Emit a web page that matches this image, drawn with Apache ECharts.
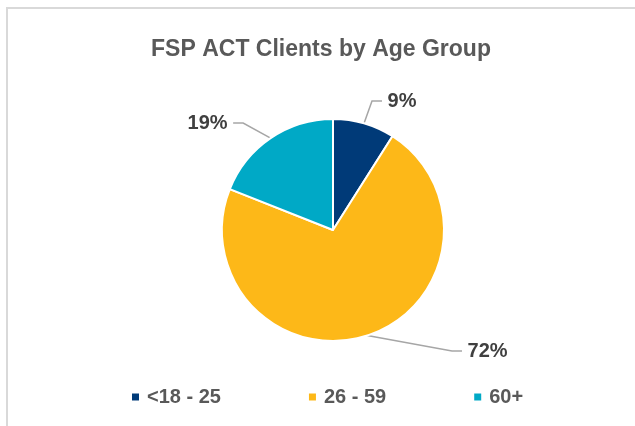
<!DOCTYPE html>
<html>
<head>
<meta charset="UTF-8">
<title></title>
<script src="https://cdn.jsdelivr.net/npm/echarts@6/dist/echarts.min.js"></script>
<style>
html, body { margin: 0; padding: 0; background: #fff; }
</style>
</head>
<body>
<div id="main" style="width: 635px;height:426px;"></div>
<script type="text/javascript">
var groups = ['<18 - 25', '26 - 59', '60+'];
var shares = [9, 72, 19];
var colors = ['#003A78', '#FDB818', '#00A9C6'];

// where each percentage label box sits (left edge / vertical middle)
var labelPos = [[382, 101], [462, 351], [182, 123]];

var seriesData = [];
for (var i = 0; i < groups.length; i++) {
	seriesData.push({ name: groups[i], value: shares[i], itemStyle: { color: colors[i] } });
}

var option = {
	animation: false,
	textStyle: { fontFamily: 'Liberation Sans' },
	graphic: [{
		type: 'rect',
		shape: { x: 7, y: 8, width: 700, height: 500 },
		style: { fill: 'none', stroke: '#d9d9d9', lineWidth: 2 }
	}],
	title: {
		text: 'FSP ACT Clients by Age Group',
		left: 316,
		textAlign: 'center',
		top: 33,
		textStyle: { fontSize: 23, fontWeight: 'bold', color: '#595959' }
	},
	legend: {
		bottom: 14,
		left: 125,
		itemWidth: 9,
		itemHeight: 9,
		itemGap: 86,
		icon: 'rect',
		textStyle: { fontSize: 20, fontWeight: 'bold', color: '#595959', padding: [0, 0, 0, 2] },
		data: groups
	},
	series: [{
		type: 'pie',
		center: [333, 230],
		radius: 111,
		startAngle: 90,
		clockwise: true,
		data: seriesData,
		itemStyle: { borderColor: '#fff', borderWidth: 2 },
		label: {
			formatter: ' {c}% ',
			fontSize: 20,
			fontWeight: 'bold',
			color: '#404040'
		},
		labelLine: {
			length: 14,
			length2: 10,
			lineStyle: { color: '#a6a6a6', width: 1.5 }
		},
		labelLayout: function (params) {
			var p = labelPos[params.dataIndex];
			return { x: p[0], y: p[1], align: 'left', verticalAlign: 'middle' };
		}
	}]
};

echarts.init(document.getElementById('main')).setOption(option);
</script>
</body>
</html>
